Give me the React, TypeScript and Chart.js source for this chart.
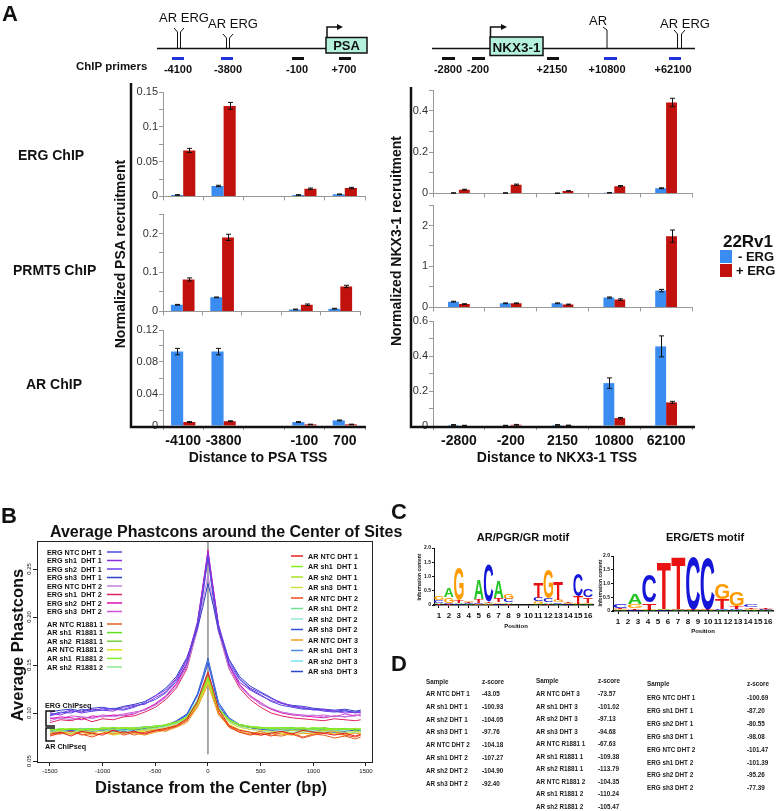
import React, { useEffect, useRef } from 'react';
import { Chart, registerables } from 'chart.js';
Chart.register(...registerables);

const FONT = '"Liberation Sans", Arial, Helvetica, sans-serif';
const BLUE = '#3a8cf0';
const RED = '#c0110d';

// ---------------- Panel A data ----------------
const psaSites = ['-4100', '-3800', '', '-100', '700'];
const nkxSites = ['-2800', '-200', '2150', '10800', '62100'];

const psaErgMinus = [0.002, 0.015, null, 0.002, 0.003];
const psaErgPlus = [0.066, 0.130, null, 0.011, 0.012];
const psaErgMinusErr = [0.0005, 0.001, null, 0.0005, 0.0005];
const psaErgPlusErr = [0.003, 0.005, null, 0.001, 0.001];

const psaPrmt5Minus = [0.017, 0.036, null, 0.005, 0.007];
const psaPrmt5Plus = [0.082, 0.190, null, 0.017, 0.064];
const psaPrmt5MinusErr = [0.001, 0.001, null, 0.001, 0.001];
const psaPrmt5PlusErr = [0.004, 0.008, null, 0.002, 0.003];

const psaArMinus = [0.093, 0.093, null, 0.005, 0.007];
const psaArPlus = [0.005, 0.006, null, 0.002, 0.002];
const psaArMinusErr = [0.004, 0.004, null, 0.0005, 0.0005];
const psaArPlusErr = [0.0005, 0.0005, null, 0.0003, 0.0003];

const nkxErgMinus = [0.002, 0.002, 0.001, 0.003, 0.025];
const nkxErgPlus = [0.018, 0.042, 0.012, 0.035, 0.44];
const nkxErgMinusErr = [0.001, 0.001, 0.001, 0.001, 0.002];
const nkxErgPlusErr = [0.002, 0.003, 0.001, 0.003, 0.02];

const nkxPrmt5Minus = [0.14, 0.10, 0.10, 0.24, 0.41];
const nkxPrmt5Plus = [0.08, 0.10, 0.07, 0.19, 1.74];
const nkxPrmt5MinusErr = [0.01, 0.01, 0.01, 0.015, 0.03];
const nkxPrmt5PlusErr = [0.01, 0.01, 0.01, 0.02, 0.15];

const nkxArMinus = [0.006, 0.003, 0.006, 0.245, 0.455];
const nkxArPlus = [0.003, 0.007, 0.004, 0.045, 0.135];
const nkxArMinusErr = [0.002, 0.001, 0.002, 0.03, 0.06];
const nkxArPlusErr = [0.001, 0.002, 0.001, 0.004, 0.006];

// ---------------- Panel B data ----------------
const phX = [-1500, -1400, -1300, -1200, -1100, -1000, -900, -800, -700, -600, -500, -400, -300, -200, -100, -50, 0, 50, 100, 200, 300, 400, 500, 600, 700, 800, 900, 1000, 1100, 1200, 1300, 1400, 1450];
const phXTicks = [-1500, -1000, -500, 0, 500, 1000, 1500];
const phYTicks = [0.05, 0.10, 0.15, 0.20, 0.25];

const ergNtcDht1 = [.098, .101, .100, .104, .102, .103, .105, .104, .107, .110, .114, .121, .133, .152, .190, .222, .262, .220, .188, .152, .135, .125, .119, .112, .108, .106, .104, .104, .102, .101, .102, .101, .102];
const ergSh1Dht1 = [.100, .098, .102, .101, .104, .103, .102, .106, .108, .109, .116, .122, .135, .155, .195, .230, .268, .228, .190, .150, .132, .124, .118, .113, .110, .107, .105, .104, .103, .102, .100, .101, .100];
const ergSh2Dht1 = [.097, .100, .103, .100, .102, .105, .104, .103, .106, .111, .118, .124, .136, .156, .192, .228, .265, .226, .192, .155, .136, .126, .121, .115, .111, .107, .106, .103, .104, .102, .103, .100, .101];
const ergSh3Dht1 = [.101, .103, .104, .102, .105, .106, .104, .107, .109, .112, .118, .126, .138, .158, .188, .210, .235, .212, .186, .156, .138, .128, .122, .116, .110, .108, .107, .105, .104, .103, .104, .102, .103];
const ergNtcDht2 = [.092, .095, .093, .096, .094, .097, .096, .098, .100, .103, .108, .116, .128, .148, .186, .215, .244, .214, .184, .146, .128, .117, .110, .105, .101, .099, .097, .098, .096, .097, .096, .097, .098];
const ergSh1Dht2 = [.090, .093, .092, .095, .091, .094, .093, .096, .097, .101, .106, .114, .126, .146, .188, .225, .262, .224, .186, .146, .126, .114, .106, .100, .097, .095, .094, .093, .092, .094, .093, .092, .093];
const ergSh2Dht2 = [.094, .096, .095, .093, .097, .096, .098, .097, .099, .104, .109, .117, .130, .150, .192, .230, .270, .230, .192, .150, .130, .118, .111, .104, .100, .098, .097, .096, .095, .097, .096, .098, .097];
const ergSh3Dht2 = [.095, .094, .097, .096, .095, .098, .097, .099, .101, .103, .110, .118, .131, .152, .194, .232, .266, .229, .190, .149, .129, .117, .109, .104, .101, .099, .098, .097, .098, .096, .099, .097, .099];

const arNtcR1 = [.080, .078, .082, .077, .079, .083, .078, .081, .077, .080, .083, .081, .086, .092, .108, .122, .140, .118, .100, .085, .080, .078, .081, .077, .076, .079, .075, .078, .077, .074, .076, .073, .075];
const arSh1R1 = [.081, .083, .082, .084, .083, .084, .082, .085, .084, .083, .086, .087, .089, .094, .110, .122, .134, .119, .104, .092, .087, .085, .084, .083, .084, .085, .083, .084, .083, .084, .082, .083, .082];
const arSh2R1 = [.082, .081, .083, .082, .084, .083, .085, .083, .084, .086, .085, .088, .090, .095, .111, .123, .136, .120, .105, .093, .088, .086, .085, .084, .085, .084, .084, .083, .085, .083, .084, .082, .083];
const arNtcR2 = [.079, .081, .078, .080, .079, .082, .077, .079, .080, .081, .082, .084, .087, .093, .106, .118, .131, .116, .100, .088, .083, .080, .079, .080, .078, .080, .079, .078, .081, .079, .078, .080, .079];
const arSh1R2 = [.083, .082, .084, .083, .082, .085, .084, .083, .085, .084, .087, .087, .090, .096, .112, .124, .137, .121, .104, .092, .088, .086, .085, .084, .083, .084, .085, .083, .084, .083, .084, .083, .084];
const arSh2R2 = [.082, .083, .082, .084, .083, .082, .084, .085, .083, .085, .086, .088, .089, .095, .110, .121, .133, .118, .103, .092, .087, .085, .084, .085, .084, .083, .084, .084, .082, .084, .083, .084, .083];

const arNtcD1 = [.078, .080, .076, .081, .079, .077, .082, .079, .081, .078, .082, .084, .087, .094, .112, .128, .143, .124, .104, .087, .082, .080, .077, .079, .081, .078, .082, .080, .079, .077, .079, .076, .078];
const arSh1D1 = [.082, .084, .083, .082, .084, .083, .085, .084, .083, .085, .086, .087, .090, .096, .112, .124, .137, .121, .105, .093, .088, .086, .085, .084, .085, .084, .083, .085, .084, .083, .084, .082, .083];
const arSh2D1 = [.083, .082, .084, .083, .082, .084, .083, .085, .084, .083, .085, .088, .091, .095, .111, .123, .135, .120, .104, .092, .087, .085, .084, .085, .083, .084, .084, .083, .082, .084, .083, .084, .083];
const arSh3D1 = [.080, .081, .079, .082, .080, .081, .080, .079, .081, .082, .083, .085, .088, .094, .109, .121, .133, .119, .103, .090, .085, .083, .082, .081, .080, .082, .081, .080, .082, .081, .080, .081, .080];
const arNtcD2 = [.076, .079, .081, .078, .075, .079, .082, .077, .080, .079, .081, .083, .086, .092, .110, .125, .141, .122, .101, .086, .080, .077, .079, .076, .080, .078, .074, .077, .079, .081, .077, .075, .077];
const arSh1D2 = [.083, .082, .083, .084, .083, .084, .083, .082, .084, .085, .086, .087, .090, .096, .113, .125, .139, .122, .105, .093, .088, .086, .084, .083, .084, .083, .084, .083, .084, .082, .083, .084, .082];
const arSh2D2 = [.081, .082, .080, .083, .082, .081, .083, .082, .081, .083, .084, .086, .089, .095, .112, .126, .140, .123, .104, .091, .086, .083, .082, .081, .082, .080, .081, .082, .080, .081, .082, .080, .081];
const arSh3D2 = [.081, .080, .082, .081, .083, .082, .081, .083, .082, .084, .085, .087, .091, .098, .118, .134, .152, .130, .108, .093, .087, .085, .083, .082, .081, .082, .083, .081, .082, .080, .081, .082, .081];
const arNtcD3 = [.077, .079, .078, .080, .077, .079, .078, .080, .079, .077, .080, .082, .085, .090, .106, .118, .130, .114, .098, .086, .081, .078, .077, .079, .078, .077, .079, .078, .080, .078, .077, .079, .078];
const arSh1D3 = [.082, .081, .083, .082, .081, .083, .084, .082, .083, .084, .085, .087, .091, .098, .119, .136, .155, .132, .110, .094, .088, .085, .083, .082, .083, .082, .081, .083, .082, .081, .083, .081, .082];
const arSh2D3 = [.080, .082, .081, .080, .082, .081, .080, .082, .081, .082, .084, .086, .089, .096, .114, .128, .143, .125, .106, .091, .086, .083, .082, .080, .081, .082, .080, .081, .082, .080, .081, .080, .081];
const arSh3D3 = [.081, .082, .080, .082, .081, .082, .083, .081, .082, .083, .085, .087, .092, .099, .120, .138, .157, .134, .111, .095, .088, .085, .083, .082, .081, .083, .082, .080, .082, .081, .080, .082, .081];

const leftSeries = [
  { name: 'ERG NTC DHT 1', color: '#4a4ae0', data: ergNtcDht1 },
  { name: 'ERG sh1  DHT 1', color: '#8a30e0', data: ergSh1Dht1 },
  { name: 'ERG sh2  DHT 1', color: '#7040f0', data: ergSh2Dht1 },
  { name: 'ERG sh3  DHT 1', color: '#3040c8', data: ergSh3Dht1 },
  { name: 'ERG NTC DHT 2', color: '#c080e0', data: ergNtcDht2 },
  { name: 'ERG sh1  DHT 2', color: '#e02060', data: ergSh1Dht2 },
  { name: 'ERG sh2  DHT 2', color: '#e010b0', data: ergSh2Dht2 },
  { name: 'ERG sh3  DHT 2', color: '#d050d8', data: ergSh3Dht2 },
  { name: 'AR NTC R1881 1', color: '#e06020', data: arNtcR1 },
  { name: 'AR sh1  R1881 1', color: '#60e020', data: arSh1R1 },
  { name: 'AR sh2  R1881 1', color: '#7ad040', data: arSh2R1 },
  { name: 'AR NTC R1881 2', color: '#e0e020', data: arNtcR2 },
  { name: 'AR sh1  R1881 2', color: '#80f030', data: arSh1R2 },
  { name: 'AR sh2  R1881 2', color: '#90e890', data: arSh2R2 },
];
const rightSeries = [
  { name: 'AR NTC DHT 1', color: '#e02020', data: arNtcD1 },
  { name: 'AR sh1  DHT 1', color: '#80f020', data: arSh1D1 },
  { name: 'AR sh2  DHT 1', color: '#a8e020', data: arSh2D1 },
  { name: 'AR sh3  DHT 1', color: '#d0e040', data: arSh3D1 },
  { name: 'AR NTC DHT 2', color: '#f04a20', data: arNtcD2 },
  { name: 'AR sh1  DHT 2', color: '#70e090', data: arSh1D2 },
  { name: 'AR sh2  DHT 2', color: '#98e8d8', data: arSh2D2 },
  { name: 'AR sh3  DHT 2', color: '#3050e0', data: arSh3D2 },
  { name: 'AR NTC DHT 3', color: '#f0a020', data: arNtcD3 },
  { name: 'AR sh1  DHT 3', color: '#4a88e0', data: arSh1D3 },
  { name: 'AR sh2  DHT 3', color: '#78e0f0', data: arSh2D3 },
  { name: 'AR sh3  DHT 3', color: '#2a48d0', data: arSh3D3 },
];

// ---------------- Panel C data ----------------
const logoPositions = ['1', '2', '3', '4', '5', '6', '7', '8', '9', '10', '11', '12', '13', '14', '15', '16'];
const arLogoA = [.05, .30, .05, .03, .70, .05, .60, .05, .01, .01, .05, .06, .03, .03, .02, .03];
const arLogoC = [.08, .05, .03, .03, .05, 1.30, .04, .12, .01, .01, .12, .12, .06, .02, .80, .25];
const arLogoG = [.12, .20, 1.15, .05, .03, .03, .05, .20, .01, .01, .08, 1.00, .08, .03, .03, .03];
const arLogoT = [.03, .03, .08, .03, .12, .05, .15, .04, .01, .01, .55, .05, .65, .04, .25, .20];
const ergLogoA = [.03, .35, .02, .03, .02, .02, .02, .03, .04, .04, .02];
const ergLogoC = [.16, .05, 1.0, .02, .02, 1.9, 1.85, .06, .05, .08, .03];
const ergLogoG = [.04, .15, .03, .02, .02, .02, .02, .55, .5, .04, .02];
const ergLogoT = [.04, .05, .25, 1.7, 1.9, .02, .02, .35, .1, .05, .03];

// ---------------- Panel D data ----------------
const dSamples1 = ['AR NTC DHT 1', 'AR sh1 DHT 1', 'AR sh2 DHT 1', 'AR sh3 DHT 1', 'AR NTC DHT 2', 'AR sh1 DHT 2', 'AR sh2 DHT 2', 'AR sh3 DHT 2'];
const dScores1 = ['-43.05', '-100.93', '-104.05', '-97.76', '-104.18', '-107.27', '-104.90', '-92.40'];
const dSamples2 = ['AR NTC DHT 3', 'AR sh1 DHT 3', 'AR sh2 DHT 3', 'AR sh3 DHT 3', 'AR NTC R1881 1', 'AR sh1 R1881 1', 'AR sh2 R1881 1', 'AR NTC R1881 2', 'AR sh1 R1881 2', 'AR sh2 R1881 2'];
const dScores2 = ['-73.57', '-101.02', '-97.13', '-94.68', '-67.63', '-109.38', '-113.79', '-104.35', '-110.24', '-105.47'];
const dSamples3 = ['ERG NTC DHT 1', 'ERG sh1 DHT 1', 'ERG sh2 DHT 1', 'ERG sh3 DHT 1', 'ERG NTC DHT 2', 'ERG sh1 DHT 2', 'ERG sh2 DHT 2', 'ERG sh3 DHT 2'];
const dScores3 = ['-100.69', '-87.20', '-80.55', '-98.08', '-101.47', '-101.39', '-95.26', '-77.39'];

// ---------------- helpers ----------------
const fmtTick = (step: number) => (v: any) => {
  const r = v / step;
  return Math.abs(r - Math.round(r)) < 1e-6 ? String(parseFloat(Number(v).toFixed(3))) : '';
};

function errorBars(errs: any[][]) {
  return {
    id: 'errorBars',
    afterDatasetsDraw(chart: any) {
      const ctx = chart.ctx;
      const ys = chart.scales.y;
      ctx.save();
      ctx.strokeStyle = '#111';
      ctx.lineWidth = 1;
      chart.data.datasets.forEach((ds: any, i: number) => {
        const meta = chart.getDatasetMeta(i);
        meta.data.forEach((el: any, j: number) => {
          const v = ds.data[j];
          const e = errs[i][j];
          if (v == null || e == null) return;
          const yt = ys.getPixelForValue(v + e);
          const yb = ys.getPixelForValue(Math.max(0, v - e));
          const x = Math.round(el.x) + 0.5;
          ctx.beginPath();
          ctx.moveTo(x, yt); ctx.lineTo(x, yb);
          ctx.moveTo(x - 2.5, yt); ctx.lineTo(x + 2.5, yt);
          ctx.moveTo(x - 2.5, yb); ctx.lineTo(x + 2.5, yb);
          ctx.stroke();
        });
      });
      ctx.restore();
    },
  };
}

function barChart(labels: string[], minus: any[], plus: any[], minusErr: any[], plusErr: any[],
  yMax: number, step: number, labelStep: number, showLabels: boolean, catPct: number, yW: number, xH: number, padR: number) {
  return {
    type: 'bar',
    data: {
      labels,
      datasets: [
        { label: '- ERG', data: minus, backgroundColor: BLUE, categoryPercentage: catPct, barPercentage: 1 },
        { label: '+ ERG', data: plus, backgroundColor: RED, categoryPercentage: catPct, barPercentage: 1 },
      ],
    },
    options: {
      animation: false, responsive: false, events: [],
      layout: { padding: { top: 8, right: padR, bottom: 0, left: 0 } },
      plugins: { legend: { display: false }, tooltip: { enabled: false } },
      scales: {
        x: {
          grid: { drawOnChartArea: false, tickLength: 4, color: '#999' },
          border: { color: '#999' },
          ticks: { display: showLabels, autoSkip: false, maxRotation: 0, padding: 3, color: '#111', font: { family: FONT, size: 14, weight: 'bold' } },
          afterFit: (s: any) => { s.height = xH; },
        },
        y: {
          min: 0, max: yMax,
          grid: { drawOnChartArea: false, tickLength: 4, color: '#999' },
          border: { color: '#999' },
          ticks: { stepSize: step, autoSkip: false, padding: 1, color: '#333', font: { family: FONT, size: 11 }, callback: fmtTick(labelStep) },
          afterFit: (s: any) => { s.width = yW; },
        },
      },
    },
    plugins: [errorBars([minusErr, plusErr])],
  };
}

const LETTERS = ['A', 'C', 'G', 'T'];
const LETTER_COLORS = ['#22c422', '#1616d8', '#ff9b00', '#e81212'];

function drawLetter(ctx: any, ch: string, color: string, x0: number, x1: number, yTop: number, yBot: number) {
  const h = yBot - yTop;
  if (h < 0.4) return;
  ctx.save();
  ctx.font = 'bold 100px ' + FONT;
  ctx.textBaseline = 'alphabetic';
  ctx.textAlign = 'left';
  const m = ctx.measureText(ch);
  const asc = m.actualBoundingBoxAscent;
  const desc = m.actualBoundingBoxDescent;
  const gw = m.actualBoundingBoxLeft + m.actualBoundingBoxRight;
  ctx.translate(x0, yBot);
  ctx.scale((x1 - x0) / gw, h / (asc + desc));
  ctx.fillStyle = color;
  ctx.fillText(ch, m.actualBoundingBoxLeft, -desc);
  ctx.restore();
}

const logoPlugin = {
  id: 'logoLetters',
  afterDatasetsDraw(chart: any) {
    const ctx = chart.ctx;
    const ys = chart.scales.y;
    const ds = chart.data.datasets;
    const n = ds[0].data.length;
    const m0 = chart.getDatasetMeta(0);
    for (let j = 0; j < n; j++) {
      const el = m0.data[j];
      const w = el.width;
      const x0 = el.x - w / 2;
      const items = ds.map((d: any, i: number) => ({ h: d.data[j], i }))
        .filter((o: any) => o.h > 0)
        .sort((a: any, b: any) => a.h - b.h);
      let cum = 0;
      for (const o of items) {
        const yb = ys.getPixelForValue(cum);
        const yt = ys.getPixelForValue(cum + o.h);
        drawLetter(ctx, LETTERS[o.i], LETTER_COLORS[o.i], x0, x0 + w, yt, yb);
        cum += o.h;
      }
    }
  },
};

function logoChart(A: number[], C: number[], G: number[], T: number[], yW: number, padR: number) {
  const cols = A.map((_, i) => String(i + 1));
  return {
    type: 'bar',
    data: {
      labels: cols,
      datasets: [A, C, G, T].map((d, i) => ({
        label: LETTERS[i], data: d, backgroundColor: 'rgba(0,0,0,0)', xAxisID: 'x2',
        categoryPercentage: 1, barPercentage: 0.96,
      })),
    },
    options: {
      animation: false, responsive: false, events: [],
      layout: { padding: { top: 8, right: padR, bottom: 0, left: 0 } },
      plugins: { legend: { display: false }, tooltip: { enabled: false } },
      scales: {
        x: {
          type: 'category', labels: logoPositions, position: 'bottom', offset: true,
          grid: { drawOnChartArea: false, offset: false, tickLength: 3, color: '#111' },
          border: { color: '#111', width: 1.5 },
          ticks: { autoSkip: false, maxRotation: 0, padding: 3, color: '#111', font: { family: FONT, size: 8, weight: 'bold' } },
          afterFit: (s: any) => { s.height = 17; },
        },
        x2: { type: 'category', display: false, stacked: true, offset: true },
        y: {
          stacked: true, min: 0, max: 2,
          grid: { drawOnChartArea: false, tickLength: 2, color: '#111' },
          border: { color: '#111' },
          ticks: { stepSize: 0.5, padding: 1, color: '#111', font: { family: FONT, size: 5, weight: 'bold' }, callback: (v: any) => (v === 0 ? '0' : Number(v).toFixed(1)) },
          afterFit: (s: any) => { s.width = yW; },
        },
      },
    },
    plugins: [logoPlugin],
  };
}

const boxPlugin = {
  id: 'plotBox',
  afterDatasetsDraw(chart: any) {
    const { ctx, chartArea: a } = chart;
    ctx.save();
    ctx.strokeStyle = '#222';
    ctx.lineWidth = 1;
    ctx.strokeRect(Math.round(a.left) + 0.5, Math.round(a.top) + 0.5, Math.round(a.right - a.left), Math.round(a.bottom - a.top));
    ctx.restore();
  },
};

const rotYLabels = {
  id: 'rotYLabels',
  afterDraw(chart: any) {
    const ys = chart.scales.y;
    const ctx = chart.ctx;
    ctx.save();
    ctx.font = '6px ' + FONT;
    ctx.fillStyle = '#111';
    ctx.textAlign = 'center';
    ctx.textBaseline = 'middle';
    ys.ticks.forEach((t: any) => {
      const py = ys.getPixelForValue(t.value);
      ctx.save();
      ctx.translate(ys.right - 8, py);
      ctx.rotate(-Math.PI / 2);
      ctx.fillText(Number(t.value).toFixed(2), 0, 0);
      ctx.restore();
    });
    ctx.restore();
  },
};

function phastconsChart() {
  const all = [...leftSeries.slice(0, 8), ...rightSeries, ...leftSeries.slice(8)];
  const datasets: any[] = all.map((s) => ({
    label: s.name,
    data: phX.map((x, i) => ({ x, y: s.data[i] })),
    borderColor: s.color,
    borderWidth: 1,
    pointRadius: 0,
    tension: 0,
  }));
  datasets.push({ label: 'center', data: [{ x: 0, y: 0.057 }, { x: 0, y: 0.2792 }], borderColor: '#555', borderWidth: 1, pointRadius: 0 });
  return {
    type: 'line',
    data: { datasets },
    options: {
      animation: false, responsive: false, events: [],
      layout: { padding: { top: 11, right: 13, bottom: 0, left: 0 } },
      plugins: { legend: { display: false }, tooltip: { enabled: false } },
      scales: {
        x: {
          type: 'linear', min: -1623, max: 1557,
          afterBuildTicks: (s: any) => { s.ticks = phXTicks.map((v) => ({ value: v })); },
          ticks: { color: '#111', font: { family: FONT, size: 6 }, padding: 2, maxRotation: 0, callback: (v: any) => String(v) },
          grid: { drawOnChartArea: false, tickLength: 4, color: '#222' },
          border: { color: '#222' },
          afterFit: (s: any) => { s.height = 18; },
        },
        y: {
          min: 0.049, max: 0.2792,
          afterBuildTicks: (s: any) => { s.ticks = phYTicks.map((v) => ({ value: v })); },
          ticks: { display: false },
          grid: { drawOnChartArea: false, tickLength: 4, color: '#222' },
          border: { color: '#222' },
          afterFit: (s: any) => { s.width = 37; },
        },
      },
    },
    plugins: [boxPlugin, rotYLabels],
  };
}

function ChartCanvas({ x, y, w, h, build }: { x: number; y: number; w: number; h: number; build: () => any }) {
  const ref = useRef<HTMLCanvasElement>(null);
  useEffect(() => {
    if (!ref.current) return;
    const c = new Chart(ref.current, build());
    return () => c.destroy();
  }, []);
  return <canvas ref={ref} width={w} height={h} style={{ position: 'absolute', left: x, top: y, width: w, height: h }} />;
}

function Tx({ x, y, s, w = 700, a = 'start', c = '#111', rot = false, children }: any) {
  return (
    <text x={x} y={y} fontSize={s} fontWeight={w} textAnchor={a} fill={c} fontFamily={FONT}
      dominantBaseline={rot ? 'central' : undefined}
      transform={rot ? `rotate(-90 ${x} ${y})` : undefined} style={{ whiteSpace: 'pre' }}>
      {children}
    </text>
  );
}

export default function App() {
  return (
    <div style={{ position: 'absolute', left: 0, top: 0, width: 776, height: 811, background: '#fff', overflow: 'hidden' }}>
      {/* Panel A charts */}
      <ChartCanvas x={126} y={84} w={246} h={120} build={() => barChart(psaSites, psaErgMinus, psaErgPlus, psaErgMinusErr, psaErgPlusErr, 0.15, 0.025, 0.05, false, 0.6, 37, 6, 7)} />
      <ChartCanvas x={126} y={206} w={246} h={113} build={() => barChart(psaSites, psaPrmt5Minus, psaPrmt5Plus, psaPrmt5MinusErr, psaPrmt5PlusErr, 0.25, 0.05, 0.1, false, 0.6, 37, 6, 12)} />
      <ChartCanvas x={126} y={322} w={246} h={128} build={() => barChart(psaSites, psaArMinus, psaArPlus, psaArMinusErr, psaArPlusErr, 0.12, 0.02, 0.04, true, 0.6, 37, 24, 7)} />
      <ChartCanvas x={398} y={82} w={300} h={119} build={() => barChart(nkxSites, nkxErgMinus, nkxErgPlus, nkxErgMinusErr, nkxErgPlusErr, 0.5, 0.1, 0.2, false, 0.42, 35, 6, 6)} />
      <ChartCanvas x={398} y={197} w={300} h={118} build={() => barChart(nkxSites, nkxPrmt5Minus, nkxPrmt5Plus, nkxPrmt5MinusErr, nkxPrmt5PlusErr, 2.5, 0.5, 1, false, 0.42, 35, 6, 6)} />
      <ChartCanvas x={398} y={313} w={300} h={137} build={() => barChart(nkxSites, nkxArMinus, nkxArPlus, nkxArMinusErr, nkxArPlusErr, 0.6, 0.1, 0.2, true, 0.42, 35, 24, 6)} />

      {/* Panel B chart */}
      <ChartCanvas x={0} y={530} w={385} h={250} build={phastconsChart} />

      {/* Panel C logos */}
      <ChartCanvas x={400} y={540} w={200} h={82} build={() => logoChart(arLogoA, arLogoC, arLogoG, arLogoT, 34, 7)} />
      <ChartCanvas x={580} y={548} w={196} h={80} build={() => logoChart(ergLogoA, ergLogoC, ergLogoG, ergLogoT, 33, 3)} />

      <svg width={776} height={811} style={{ position: 'absolute', left: 0, top: 0, pointerEvents: 'none' }}>
        {/* Panel letters */}
        <Tx x={2} y={21} s={22}>A</Tx>
        <Tx x={1} y={523} s={22}>B</Tx>
        <Tx x={391} y={519} s={22}>C</Tx>
        <Tx x={391} y={671} s={22}>D</Tx>

        {/* PSA gene diagram */}
        <line x1={157} y1={48.5} x2={327} y2={48.5} stroke="#111" strokeWidth={1.5} />
        <rect x={326} y={37.5} width={41} height={15.5} fill="#b5f2de" stroke="#111" strokeWidth={1.5} />
        <Tx x={346.5} y={50} s={13} a="middle">PSA</Tx>
        <polyline points="327,37 327,27 338,27" fill="none" stroke="#111" strokeWidth={1.5} />
        <polygon points="337,24 343,27 337,30" fill="#111" />
        <polyline points="174,28 177.5,32 177.5,48" fill="none" stroke="#111" strokeWidth={1} />
        <polyline points="184,28 180.5,32 180.5,48" fill="none" stroke="#111" strokeWidth={1} />
        <Tx x={184} y={22} s={13} w={400} a="middle">AR ERG</Tx>
        <polyline points="223,34 226.5,38 226.5,48" fill="none" stroke="#111" strokeWidth={1} />
        <polyline points="233,34 229.5,38 229.5,48" fill="none" stroke="#111" strokeWidth={1} />
        <Tx x={233} y={28} s={13} w={400} a="middle">AR ERG</Tx>
        <rect x={172} y={57} width={12} height={3} fill="#2233dd" />
        <rect x={221} y={57} width={12} height={3} fill="#2233dd" />
        <rect x={292} y={57} width={12} height={3} fill="#111" />
        <rect x={339} y={57} width={12} height={3} fill="#111" />
        <Tx x={76} y={70} s={11.5}>ChIP primers</Tx>
        <Tx x={178} y={73} s={11} a="middle">-4100</Tx>
        <Tx x={228} y={73} s={11} a="middle">-3800</Tx>
        <Tx x={297} y={73} s={11} a="middle">-100</Tx>
        <Tx x={344} y={73} s={11} a="middle">+700</Tx>

        {/* NKX3-1 gene diagram */}
        <line x1={432} y1={48.5} x2={695} y2={48.5} stroke="#111" strokeWidth={1.5} />
        <rect x={490} y={37} width={53} height={18.5} fill="#b5f2de" stroke="#111" strokeWidth={1.5} />
        <Tx x={516.5} y={51.5} s={13.5} a="middle">NKX3-1</Tx>
        <polyline points="490.5,37 490.5,27 502,27" fill="none" stroke="#111" strokeWidth={1.5} />
        <polygon points="501,24 507,27 501,30" fill="#111" />
        <polyline points="603,27 607,30 607,48" fill="none" stroke="#111" strokeWidth={1} />
        <Tx x={598} y={25} s={13} w={400} a="middle">AR</Tx>
        <polyline points="674,30 677.5,34 677.5,48" fill="none" stroke="#111" strokeWidth={1} />
        <polyline points="685,30 681.5,34 681.5,48" fill="none" stroke="#111" strokeWidth={1} />
        <Tx x={685} y={28} s={13} w={400} a="middle">AR ERG</Tx>
        <rect x={442} y={57} width={13} height={3} fill="#111" />
        <rect x={472} y={57} width={13} height={3} fill="#111" />
        <rect x={547} y={57} width={12} height={3} fill="#111" />
        <rect x={604} y={57} width={13} height={3} fill="#2233dd" />
        <rect x={669} y={57} width={12} height={3} fill="#2233dd" />
        <Tx x={448} y={73} s={11} a="middle">-2800</Tx>
        <Tx x={478} y={73} s={11} a="middle">-200</Tx>
        <Tx x={552} y={73} s={11} a="middle">+2150</Tx>
        <Tx x={607} y={73} s={11} a="middle">+10800</Tx>
        <Tx x={673} y={73} s={11} a="middle">+62100</Tx>

        {/* Panel A brackets and labels */}
        <polyline points="131,83 131,427 366,427" fill="none" stroke="#111" strokeWidth={2.5} />
        <polyline points="411,87 411,427 695,427" fill="none" stroke="#111" strokeWidth={2.5} />
        <Tx x={120} y={254} s={14} a="middle" rot>Normalized PSA recruitment</Tx>
        <Tx x={396} y={241} s={14} a="middle" rot>Normalized NKX3-1 recruitment</Tx>
        <Tx x={18} y={160} s={14}>ERG ChIP</Tx>
        <Tx x={13} y={275} s={14}>PRMT5 ChIP</Tx>
        <Tx x={26} y={389} s={14}>AR ChIP</Tx>
        <Tx x={258} y={462} s={14} a="middle">Distance to PSA TSS</Tx>
        <Tx x={557} y={462} s={14} a="middle">Distance to NKX3-1 TSS</Tx>
        <Tx x={748} y={247} s={17} a="middle">22Rv1</Tx>
        <rect x={720} y={250} width={12} height={13} fill={BLUE} />
        <rect x={720} y={264} width={12} height={13} fill={RED} />
        <Tx x={738} y={261} s={13}>- ERG</Tx>
        <Tx x={736} y={275} s={13}>+ ERG</Tx>

        {/* Panel B text */}
        <Tx x={50} y={537} s={16}>Average Phastcons around the Center of Sites</Tx>
        <Tx x={17} y={645} s={16.5} a="middle" rot>Average Phastcons</Tx>
        <Tx x={211} y={793} s={16.5} a="middle">Distance from the Center (bp)</Tx>
        {leftSeries.map((s, i) => {
          const yc = i < 8 ? 552 + i * 8.5 : 624 + (i - 8) * 8.6;
          return (
            <g key={s.name}>
              <Tx x={47} y={yc + 2.6} s={7.2}>{s.name}</Tx>
              <line x1={107} y1={yc} x2={122} y2={yc} stroke={s.color} strokeWidth={1.5} />
            </g>
          );
        })}
        {rightSeries.map((s, i) => {
          const yc = 556 + i * 10.5;
          return (
            <g key={s.name}>
              <line x1={291} y1={yc} x2={303} y2={yc} stroke={s.color} strokeWidth={1.5} />
              <Tx x={308} y={yc + 2.6} s={7.2}>{s.name}</Tx>
            </g>
          );
        })}
        <polyline points="55,711 46,711 46,726 55,726" fill="none" stroke="#111" strokeWidth={1.5} />
        <polyline points="55,728 46,728 46,741 55,741" fill="none" stroke="#111" strokeWidth={1.5} />
        <Tx x={45} y={708} s={7.2}>ERG ChIPseq</Tx>
        <Tx x={45} y={749} s={7.2}>AR ChIPseq</Tx>

        {/* Panel C text */}
        <Tx x={523} y={541} s={11} a="middle">AR/PGR/GR motif</Tx>
        <Tx x={705} y={541} s={11} a="middle">ERG/ETS motif</Tx>
        <Tx x={516} y={628} s={6} a="middle">Position</Tx>
        <Tx x={703} y={633} s={6} a="middle">Position</Tx>
        <Tx x={419} y={577} s={5} a="middle" rot>Information content</Tx>
        <Tx x={600} y={583} s={5} a="middle" rot>Information content</Tx>

        {/* Panel D tables */}
        <Tx x={426} y={684} s={6.3} c="#222">Sample</Tx>
        <Tx x={482} y={684} s={6.3} c="#222">z-score</Tx>
        {dSamples1.map((s, i) => (
          <g key={'d1' + i}>
            <Tx x={426} y={696 + i * 12.8} s={6.3} c="#222">{s}</Tx>
            <Tx x={482} y={696 + i * 12.8} s={6.3} c="#222">{dScores1[i]}</Tx>
          </g>
        ))}
        <Tx x={536} y={683} s={6.3} c="#222">Sample</Tx>
        <Tx x={598} y={683} s={6.3} c="#222">z-score</Tx>
        {dSamples2.map((s, i) => (
          <g key={'d2' + i}>
            <Tx x={536} y={696 + i * 12.5} s={6.3} c="#222">{s}</Tx>
            <Tx x={598} y={696 + i * 12.5} s={6.3} c="#222">{dScores2[i]}</Tx>
          </g>
        ))}
        <Tx x={647} y={686} s={6.3} c="#222">Sample</Tx>
        <Tx x={747} y={686} s={6.3} c="#222">z-score</Tx>
        {dSamples3.map((s, i) => (
          <g key={'d3' + i}>
            <Tx x={647} y={700 + i * 12.9} s={6.3} c="#222">{s}</Tx>
            <Tx x={747} y={700 + i * 12.9} s={6.3} c="#222">{dScores3[i]}</Tx>
          </g>
        ))}
      </svg>
    </div>
  );
}
